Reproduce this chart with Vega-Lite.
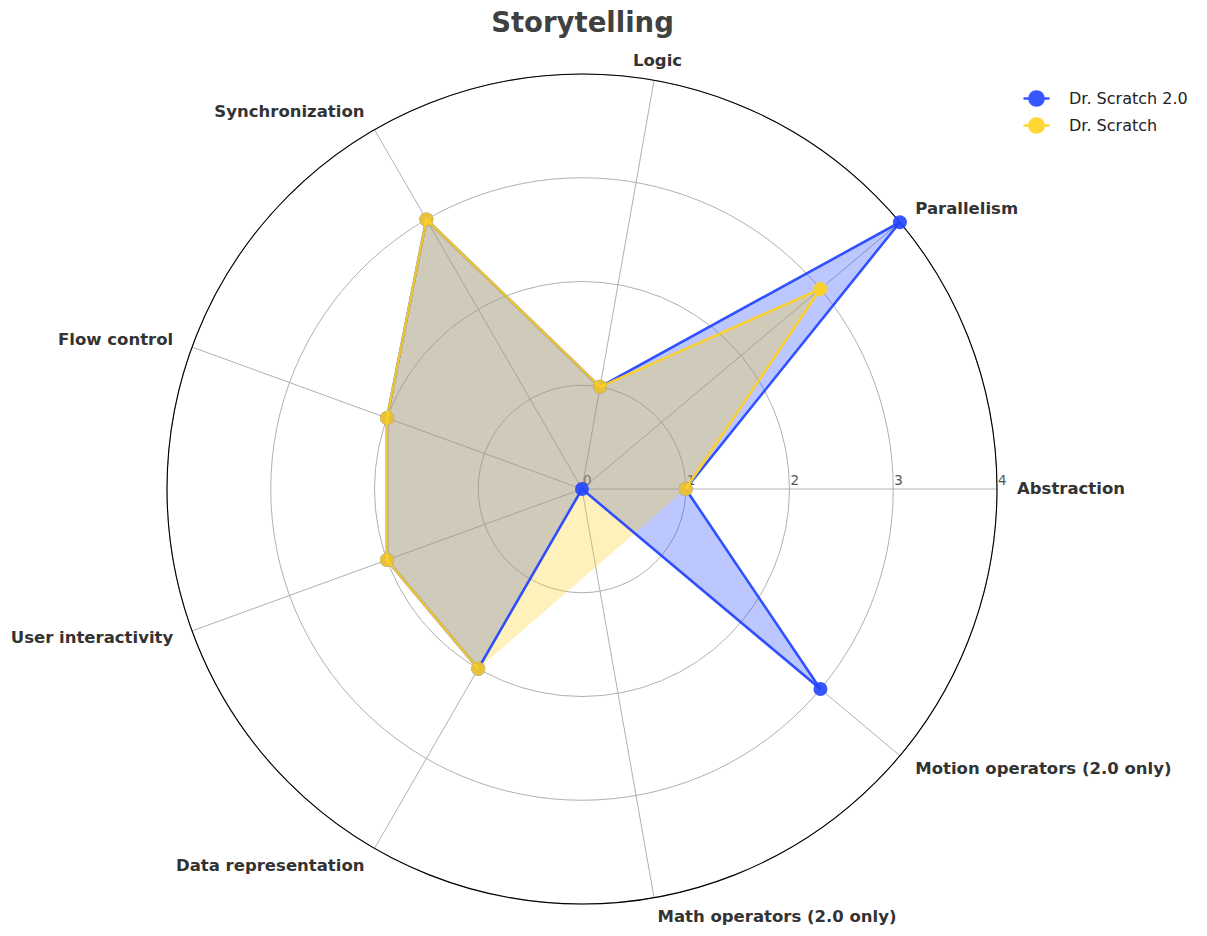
{
  "$schema": "https://vega.github.io/schema/vega-lite/v6.json",
  "width": 1207,
  "height": 936,
  "autosize": {"type": "none"},
  "padding": 0,
  "background": "white",
  "config": {"view": {"stroke": null}, "font": "DejaVu Sans"},
  "title": {
    "text": "Storytelling",
    "fontSize": 27.5,
    "fontWeight": "bold",
    "color": "#404040",
    "anchor": "middle",
    "frame": "group",
    "baseline": "alphabetic",
    "offset": -33,
    "dx": -21,
    "dy": 26
  },
  "datasets": {
    "scores": [
      {"axis": "Abstraction", "series": "Dr. Scratch 2.0", "value": 1},
      {"axis": "Parallelism", "series": "Dr. Scratch 2.0", "value": 4},
      {"axis": "Logic", "series": "Dr. Scratch 2.0", "value": 1},
      {"axis": "Synchronization", "series": "Dr. Scratch 2.0", "value": 3},
      {"axis": "Flow control", "series": "Dr. Scratch 2.0", "value": 2},
      {"axis": "User interactivity", "series": "Dr. Scratch 2.0", "value": 2},
      {"axis": "Data representation", "series": "Dr. Scratch 2.0", "value": 2},
      {"axis": "Math operators (2.0 only)", "series": "Dr. Scratch 2.0", "value": 0},
      {"axis": "Motion operators (2.0 only)", "series": "Dr. Scratch 2.0", "value": 3},
      {"axis": "Abstraction", "series": "Dr. Scratch", "value": 1},
      {"axis": "Parallelism", "series": "Dr. Scratch", "value": 3},
      {"axis": "Logic", "series": "Dr. Scratch", "value": 1},
      {"axis": "Synchronization", "series": "Dr. Scratch", "value": 3},
      {"axis": "Flow control", "series": "Dr. Scratch", "value": 2},
      {"axis": "User interactivity", "series": "Dr. Scratch", "value": 2},
      {"axis": "Data representation", "series": "Dr. Scratch", "value": 2}
    ],
    "axes": [
      {"axis": "Abstraction"},
      {"axis": "Parallelism"},
      {"axis": "Logic"},
      {"axis": "Synchronization"},
      {"axis": "Flow control"},
      {"axis": "User interactivity"},
      {"axis": "Data representation"},
      {"axis": "Math operators (2.0 only)"},
      {"axis": "Motion operators (2.0 only)"}
    ],
    "rings": [{"r": 0}, {"r": 1}, {"r": 2}, {"r": 3}, {"r": 4}]
  },
  "encoding": {
    "x": {"field": "px", "type": "quantitative", "scale": {"domain": [-5.6096, 6.0241], "nice": false, "zero": false}, "axis": null},
    "y": {"field": "py", "type": "quantitative", "scale": {"domain": [-4.3084, 4.7133], "nice": false, "zero": false}, "axis": null}
  },
  "layer": [
    {
      "data": {"name": "rings"},
      "transform": [{"filter": "datum.r > 0"}, {"calculate": "0", "as": "px"}, {"calculate": "0", "as": "py"}],
      "mark": {"type": "point", "shape": "circle", "filled": false, "stroke": "#b0b0b0", "strokeWidth": 1, "opacity": 1},
      "encoding": {
        "size": {"field": "r", "type": "quantitative", "scale": {"type": "pow", "exponent": 2, "domain": [0, 4], "range": [0, 688900]}, "legend": null}
      }
    },
    {
      "data": {"name": "axes"},
      "transform": [
        {"calculate": "indexof(['Abstraction','Parallelism','Logic','Synchronization','Flow control','User interactivity','Data representation','Math operators (2.0 only)','Motion operators (2.0 only)'], datum.axis) * 2 * PI / 9", "as": "a"},
        {"calculate": "4 * cos(datum.a)", "as": "px"},
        {"calculate": "4 * sin(datum.a)", "as": "py"},
        {"calculate": "0", "as": "cx"},
        {"calculate": "0", "as": "cy"}
      ],
      "mark": {"type": "rule", "stroke": "#b0b0b0", "strokeWidth": 1},
      "encoding": {"x2": {"field": "cx"}, "y2": {"field": "cy"}}
    },
    {
      "data": {"name": "rings"},
      "transform": [{"filter": "datum.r == 4"}, {"calculate": "0", "as": "px"}, {"calculate": "0", "as": "py"}],
      "mark": {"type": "point", "shape": "circle", "filled": false, "stroke": "#000000", "strokeWidth": 1.1, "opacity": 1},
      "encoding": {
        "size": {"field": "r", "type": "quantitative", "scale": {"type": "pow", "exponent": 2, "domain": [0, 4], "range": [0, 688900]}, "legend": null}
      }
    },
    {
      "data": {"name": "rings"},
      "transform": [{"calculate": "datum.r", "as": "px"}, {"calculate": "0", "as": "py"}],
      "mark": {"type": "text", "align": "left", "baseline": "bottom", "dx": 1, "dy": -1, "fontSize": 13.5, "color": "#555555"},
      "encoding": {"text": {"field": "r", "type": "quantitative"}}
    },
    {
      "data": {"name": "scores"},
      "transform": [
        {"filter": "datum.series == 'Dr. Scratch 2.0'"},
        {"calculate": "indexof(['Abstraction','Parallelism','Logic','Synchronization','Flow control','User interactivity','Data representation','Math operators (2.0 only)','Motion operators (2.0 only)'], datum.axis)", "as": "idx"},
        {"calculate": "datum.idx * 2 * PI / 9", "as": "a"},
        {"calculate": "datum.value * cos(datum.a)", "as": "px"},
        {"calculate": "datum.value * sin(datum.a)", "as": "py"}
      ],
      "mark": {"type": "line", "interpolate": "linear-closed", "fill": "#2244ff", "fillOpacity": 0.3, "stroke": "transparent", "strokeWidth": 0},
      "encoding": {"order": {"field": "idx", "type": "quantitative"}}
    },
    {
      "data": {"name": "scores"},
      "transform": [
        {"filter": "datum.series == 'Dr. Scratch'"},
        {"calculate": "indexof(['Abstraction','Parallelism','Logic','Synchronization','Flow control','User interactivity','Data representation','Math operators (2.0 only)','Motion operators (2.0 only)'], datum.axis)", "as": "idx"},
        {"calculate": "datum.idx * 2 * PI / 9", "as": "a"},
        {"calculate": "datum.value * cos(datum.a)", "as": "px"},
        {"calculate": "datum.value * sin(datum.a)", "as": "py"}
      ],
      "mark": {"type": "line", "interpolate": "linear-closed", "fill": "#ffd21f", "fillOpacity": 0.3, "stroke": "transparent", "strokeWidth": 0},
      "encoding": {"order": {"field": "idx", "type": "quantitative"}}
    },
    {
      "data": {"name": "scores"},
      "transform": [
        {"filter": "datum.series == 'Dr. Scratch 2.0'"},
        {"calculate": "indexof(['Abstraction','Parallelism','Logic','Synchronization','Flow control','User interactivity','Data representation','Math operators (2.0 only)','Motion operators (2.0 only)'], datum.axis)", "as": "idx"},
        {"calculate": "datum.idx * 2 * PI / 9", "as": "a"},
        {"calculate": "datum.value * cos(datum.a)", "as": "px"},
        {"calculate": "datum.value * sin(datum.a)", "as": "py"}
      ],
      "mark": {"type": "line", "interpolate": "linear-closed", "strokeWidth": 2.6, "opacity": 0.92},
      "encoding": {
        "order": {"field": "idx", "type": "quantitative"},
        "color": {
          "field": "series", "type": "nominal",
          "scale": {"domain": ["Dr. Scratch 2.0", "Dr. Scratch"], "range": ["#2244ff", "#ffd21f"]},
          "legend": {
            "title": null,
            "orient": "none",
            "legendX": 1022,
            "legendY": 84,
            "symbolType": "M-1,0L1,0M0.55,0A0.55,0.55,0,1,1,-0.55,0A0.55,0.55,0,1,1,0.55,0",
            "symbolSize": 676,
            "symbolStrokeWidth": 2.4,
            "symbolOpacity": 0.92,
            "labelFontSize": 16,
            "labelFont": "DejaVu Sans",
            "labelColor": "#222222",
            "labelOffset": 18,
            "rowPadding": 0,
            "padding": 0
          }
        }
      }
    },
    {
      "data": {"name": "scores"},
      "transform": [
        {"filter": "datum.series == 'Dr. Scratch 2.0'"},
        {"calculate": "indexof(['Abstraction','Parallelism','Logic','Synchronization','Flow control','User interactivity','Data representation','Math operators (2.0 only)','Motion operators (2.0 only)'], datum.axis)", "as": "idx"},
        {"calculate": "datum.idx * 2 * PI / 9", "as": "a"},
        {"calculate": "datum.value * cos(datum.a)", "as": "px"},
        {"calculate": "datum.value * sin(datum.a)", "as": "py"}
      ],
      "mark": {"type": "point", "shape": "circle", "filled": true, "size": 196, "opacity": 0.9},
      "encoding": {"color": {"field": "series", "type": "nominal"}}
    },
    {
      "data": {"name": "scores"},
      "transform": [
        {"filter": "datum.series == 'Dr. Scratch'"},
        {"calculate": "indexof(['Abstraction','Parallelism','Logic','Synchronization','Flow control','User interactivity','Data representation','Math operators (2.0 only)','Motion operators (2.0 only)'], datum.axis)", "as": "idx"},
        {"calculate": "datum.idx * 2 * PI / 9", "as": "a"},
        {"calculate": "datum.value * cos(datum.a)", "as": "px"},
        {"calculate": "datum.value * sin(datum.a)", "as": "py"}
      ],
      "mark": {"type": "line", "interpolate": "linear", "strokeWidth": 2.6, "opacity": 0.9},
      "encoding": {
        "order": {"field": "idx", "type": "quantitative"},
        "color": {"field": "series", "type": "nominal"}
      }
    },
    {
      "data": {"name": "scores"},
      "transform": [
        {"filter": "datum.series == 'Dr. Scratch'"},
        {"calculate": "indexof(['Abstraction','Parallelism','Logic','Synchronization','Flow control','User interactivity','Data representation','Math operators (2.0 only)','Motion operators (2.0 only)'], datum.axis)", "as": "idx"},
        {"calculate": "datum.idx * 2 * PI / 9", "as": "a"},
        {"calculate": "datum.value * cos(datum.a)", "as": "px"},
        {"calculate": "datum.value * sin(datum.a)", "as": "py"}
      ],
      "mark": {"type": "point", "shape": "circle", "filled": true, "size": 196, "opacity": 0.88},
      "encoding": {"color": {"field": "series", "type": "nominal"}}
    },
    {
      "data": {"name": "axes"},
      "transform": [
        {"filter": "indexof(['Abstraction','Parallelism','Math operators (2.0 only)','Motion operators (2.0 only)'], datum.axis) >= 0"},
        {"calculate": "indexof(['Abstraction','Parallelism','Logic','Synchronization','Flow control','User interactivity','Data representation','Math operators (2.0 only)','Motion operators (2.0 only)'], datum.axis) * 2 * PI / 9", "as": "a"},
        {"calculate": "4.193 * cos(datum.a)", "as": "px"},
        {"calculate": "4.193 * sin(datum.a)", "as": "py"}
      ],
      "mark": {"type": "text", "align": "left", "baseline": "middle", "fontSize": 16.5, "fontWeight": "bold", "color": "#333333"},
      "encoding": {"text": {"field": "axis"}}
    },
    {
      "data": {"name": "axes"},
      "transform": [
        {"filter": "datum.axis == 'Logic'"},
        {"calculate": "2 * 2 * PI / 9", "as": "a"},
        {"calculate": "4.193 * cos(datum.a)", "as": "px"},
        {"calculate": "4.193 * sin(datum.a)", "as": "py"}
      ],
      "mark": {"type": "text", "align": "center", "baseline": "middle", "fontSize": 16.5, "fontWeight": "bold", "color": "#333333"},
      "encoding": {"text": {"field": "axis"}}
    },
    {
      "data": {"name": "axes"},
      "transform": [
        {"filter": "indexof(['Synchronization','Flow control','User interactivity','Data representation'], datum.axis) >= 0"},
        {"calculate": "indexof(['Abstraction','Parallelism','Logic','Synchronization','Flow control','User interactivity','Data representation','Math operators (2.0 only)','Motion operators (2.0 only)'], datum.axis) * 2 * PI / 9", "as": "a"},
        {"calculate": "4.193 * cos(datum.a)", "as": "px"},
        {"calculate": "4.193 * sin(datum.a)", "as": "py"}
      ],
      "mark": {"type": "text", "align": "right", "baseline": "middle", "fontSize": 16.5, "fontWeight": "bold", "color": "#333333"},
      "encoding": {"text": {"field": "axis"}}
    }
  ]
}
